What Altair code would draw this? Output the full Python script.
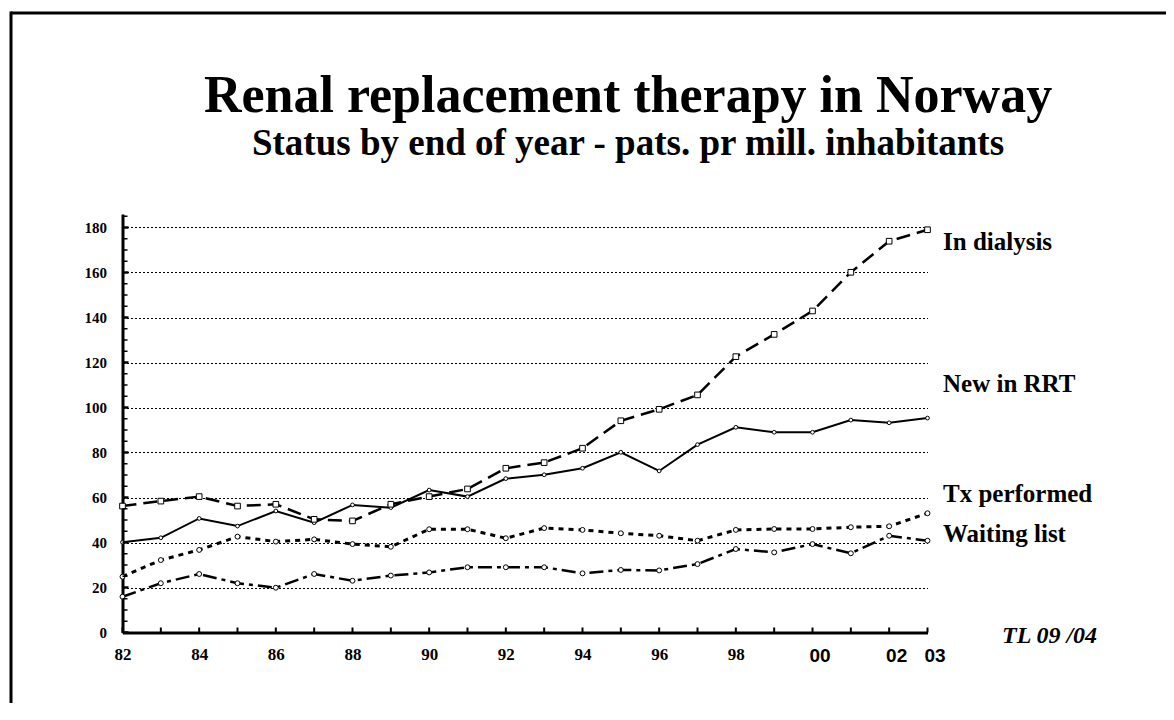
import altair as alt
import pandas as pd

# ---------------- data ----------------
years = [1982, 1983, 1984, 1985, 1986, 1987, 1988, 1989, 1990, 1991, 1992,
         1993, 1994, 1995, 1996, 1997, 1998, 1999, 2000, 2001, 2002, 2003]
in_dialysis = [56.2, 58.4, 60.4, 56.2, 57.0, 50.3, 49.6, 57.0, 60.4, 63.8, 73.0,
               75.5, 81.9, 94.1, 99.2, 105.6, 122.6, 132.5, 142.9, 160.1, 173.9, 179.0]
new_in_rrt = [40.1, 42.1, 50.7, 47.3, 54.0, 48.8, 56.7, 55.5, 63.3, 60.4, 68.4,
              70.1, 73.0, 80.1, 71.8, 83.5, 91.2, 89.0, 89.0, 94.4, 93.2, 95.3]
tx_performed = [24.8, 32.2, 36.7, 42.6, 40.4, 41.4, 39.3, 38.1, 45.9, 45.9, 41.9,
                46.4, 45.6, 44.1, 43.0, 40.8, 45.6, 46.0, 46.0, 46.8, 47.2, 53.0]
waiting_list = [15.9, 21.9, 26.0, 21.9, 19.9, 26.0, 23.0, 25.3, 26.7, 29.0, 29.0,
                29.0, 26.3, 27.8, 27.6, 30.4, 37.1, 35.6, 39.3, 35.2, 43.0, 40.8]

x_tick_labels = [1982, 1984, 1986, 1988, 1990, 1992, 1994, 1996, 1998, 2000, 2002, 2003]
y_tick_labels = [0, 20, 40, 60, 80, 100, 120, 140, 160, 180]
y_minor_ticks = list(range(0, 190, 5))

title_text = "Renal replacement therapy in Norway"
subtitle_text = "Status by end of year - pats. pr mill. inhabitants"
series_names = ["In dialysis", "New in RRT", "Tx performed", "Waiting list"]
credit_text = "TL 09 /04"

# ---------------- layout ----------------
W, H = 805, 418.5
SERIF = "Liberation Serif"
SANS = "Liberation Sans"

xs = alt.Scale(domain=[1982, 2003], nice=False, zero=False)
ys = alt.Scale(domain=[0, 186], nice=False, zero=True)

x_axis = alt.Axis(
    values=x_tick_labels,
    labelExpr="substring(toString(datum.value), 2)",
    ticks=False, domainWidth=3, domainColor="black",
    labelFont={"condition": {"test": "datum.value >= 2000", "value": SANS}, "value": SERIF},
    labelFontSize={"condition": {"test": "datum.value >= 2000", "value": 19}, "value": 17},
    labelOffset={"condition": {"test": "datum.value >= 2000", "value": 7}, "value": 0},
    labelFontWeight="bold", labelColor="black", labelPadding=14,
    labelFlush=False, labelOverlap=False, grid=False, title=None,
)
y_axis = alt.Axis(
    values=y_tick_labels, ticks=False, domainWidth=3, domainColor="black",
    labelFont=SERIF, labelFontSize=15, labelFontWeight="bold", labelColor="black",
    labelPadding=16, labelFlush=False, labelOverlap=False,
    grid=True, gridDash=[2, 2], gridColor="black", gridWidth=1, gridOpacity=1,
    title=None,
)


def X(field):
    return alt.X(field, scale=xs, axis=x_axis)


def Y(field):
    return alt.Y(field, scale=ys, axis=y_axis)


def series_layers(values, dash, width, shape, size):
    df = pd.DataFrame({"year": years, "value": values})
    line_kw = dict(color="black", strokeWidth=width)
    if dash:
        line_kw["strokeDash"] = dash
    line = alt.Chart(df).mark_line(**line_kw).encode(x=X("year:Q"), y=Y("value:Q"))
    pts = alt.Chart(df).mark_point(
        shape=shape, filled=True, fill="white", stroke="black",
        strokeWidth=1, size=size, opacity=1,
    ).encode(x=X("year:Q"), y=Y("value:Q"))
    return [line, pts]


layers = []
layers += series_layers(waiting_list, [14, 5, 4, 5], 2.5, "circle", 24)
layers += series_layers(tx_performed, [5, 5], 3, "circle", 24)
layers += series_layers(new_in_rrt, None, 2, "circle", 14)
layers += series_layers(in_dialysis, [14, 7], 2.5, "square", 32)

# inward ticks
ytick_df = pd.DataFrame({"v": y_minor_ticks})
ytick_df["major"] = ytick_df["v"] % 20 == 0
minor_ticks = alt.Chart(ytick_df[~ytick_df["major"]]).mark_rule(color="black", strokeWidth=1.5).encode(
    x=alt.value(0), x2=alt.value(5), y=Y("v:Q"))
major_ticks = alt.Chart(ytick_df[ytick_df["major"]]).mark_rule(color="black", strokeWidth=2.5).encode(
    x=alt.value(0), x2=alt.value(6), y=Y("v:Q"))
xtick_df = pd.DataFrame({"year": years})
x_ticks = alt.Chart(xtick_df).mark_rule(color="black", strokeWidth=2).encode(
    x=X("year:Q"), y=alt.value(H), y2=alt.value(H - 5))
layers += [minor_ticks, major_ticks, x_ticks]

one = pd.DataFrame({"a": [0]})


def text(t, x, y, size, align="left", font=SERIF, style="normal"):
    return alt.Chart(one).mark_text(
        text=t, font=font, fontSize=size, fontWeight="bold", fontStyle=style,
        align=align, baseline="alphabetic", color="black",
    ).encode(x=alt.value(x), y=alt.value(y))


layers += [
    text(title_text, 505.5, -102, 52, align="center"),
    text(subtitle_text, 505.5, -59, 37, align="center"),
    text(series_names[0], 820.5, 36, 25),
    text(series_names[1], 820.5, 178, 25),
    text(series_names[2], 820.5, 288, 25),
    text(series_names[3], 820.5, 328, 25),
    text(credit_text, 879.5, 429, 24, style="italic"),
]

# frame (top and left edges visible)
frame_top = alt.Chart(one).mark_rule(color="black", strokeWidth=3).encode(
    x=alt.value(-111.5), x2=alt.value(1050.5), y=alt.value(-201))
frame_left = alt.Chart(one).mark_rule(color="black", strokeWidth=3).encode(
    x=alt.value(-111.5), y=alt.value(-202.5), y2=alt.value(520))
layers += [frame_top, frame_left]

chart = alt.layer(*layers).properties(
    width=W, height=H,
    autosize=alt.AutoSizeParams(type="none"),
    padding={"left": 114.5, "top": 206, "right": 238, "bottom": 70},
    background="white",
).configure_view(stroke=None)

chart.save("out.html", embed_options={"renderer": "svg", "actions": False})
